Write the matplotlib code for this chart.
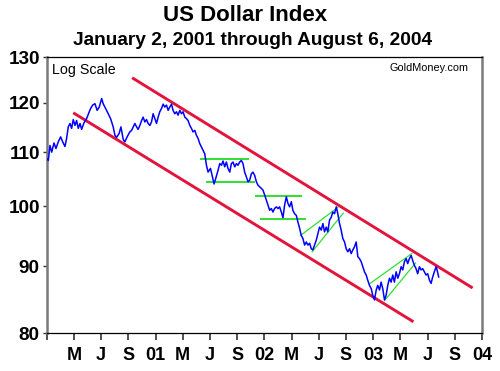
import matplotlib
matplotlib.use("Agg")
import matplotlib.pyplot as plt
from matplotlib.ticker import FixedLocator, NullLocator

plt.rcParams['font.family'] = ['Liberation Sans', 'DejaVu Sans']

# USD index (decimal year, index value)
usd_year = [
    2001.000, 2001.015, 2001.030, 2001.046, 2001.067, 2001.085, 2001.106, 2001.128, 2001.147, 2001.168,
    2001.183, 2001.198, 2001.214, 2001.229, 2001.244, 2001.260, 2001.275, 2001.290, 2001.306, 2001.321,
    2001.342, 2001.367, 2001.391, 2001.404, 2001.422, 2001.443, 2001.464, 2001.483, 2001.505, 2001.519,
    2001.535, 2001.550, 2001.565, 2001.587, 2001.611, 2001.627, 2001.642, 2001.666, 2001.682, 2001.703,
    2001.718, 2001.739, 2001.764, 2001.780, 2001.810, 2001.826, 2001.840, 2001.856, 2001.872, 2001.886,
    2001.902, 2001.917, 2001.932, 2001.948, 2001.963, 2001.978, 2001.994, 2002.009, 2002.024, 2002.039,
    2002.055, 2002.070, 2002.085, 2002.101, 2002.116, 2002.131, 2002.147, 2002.161, 2002.177, 2002.193,
    2002.207, 2002.223, 2002.239, 2002.253, 2002.269, 2002.284, 2002.299, 2002.315, 2002.330, 2002.345,
    2002.361, 2002.376, 2002.391, 2002.406, 2002.422, 2002.452, 2002.468, 2002.483, 2002.505, 2002.523,
    2002.538, 2002.553, 2002.574, 2002.590, 2002.606, 2002.620, 2002.636, 2002.651, 2002.666, 2002.682,
    2002.697, 2002.712, 2002.728, 2002.743, 2002.758, 2002.773, 2002.789, 2002.804, 2002.819, 2002.835,
    2002.850, 2002.865, 2002.881, 2002.895, 2002.911, 2002.927, 2002.941, 2002.957, 2002.972, 2002.987,
    2003.003, 2003.018, 2003.033, 2003.049, 2003.064, 2003.079, 2003.094, 2003.110, 2003.125, 2003.140,
    2003.156, 2003.171, 2003.186, 2003.202, 2003.217, 2003.232, 2003.248, 2003.262, 2003.278, 2003.294,
    2003.308, 2003.324, 2003.339, 2003.354, 2003.370, 2003.385, 2003.400, 2003.416, 2003.431, 2003.446,
    2003.461, 2003.477, 2003.492, 2003.507, 2003.523, 2003.538, 2003.553, 2003.569, 2003.583, 2003.599,
    2003.615, 2003.629, 2003.645, 2003.661, 2003.675, 2003.691, 2003.706, 2003.721, 2003.737, 2003.752,
    2003.767, 2003.783, 2003.798, 2003.813, 2003.828, 2003.844, 2003.859, 2003.874, 2003.890, 2003.905,
    2003.920, 2003.936, 2003.950, 2003.966, 2003.982, 2003.996, 2004.012, 2004.028, 2004.042, 2004.058,
    2004.073, 2004.088, 2004.104, 2004.119, 2004.134, 2004.150, 2004.165, 2004.180, 2004.195, 2004.211,
    2004.226, 2004.241, 2004.257, 2004.272, 2004.287, 2004.303, 2004.317, 2004.333, 2004.349, 2004.363,
    2004.379, 2004.394, 2004.409, 2004.425, 2004.440, 2004.455, 2004.471, 2004.486, 2004.501, 2004.517,
    2004.532, 2004.547, 2004.562, 2004.578, 2004.587, 2004.602,
]
usd_value = [
    108.8, 108.4, 111.3, 110.0, 111.8, 110.7, 112.0, 113.0, 112.0, 111.1,
    112.7, 115.0, 115.7, 114.7, 116.5, 115.3, 116.3, 114.7, 115.7, 114.5,
    115.8, 116.7, 118.1, 118.8, 119.5, 119.8, 118.4, 119.1, 120.9, 119.8,
    119.1, 118.4, 117.7, 116.7, 115.0, 113.3, 112.9, 113.7, 115.0, 112.5,
    112.0, 113.0, 114.0, 114.3, 115.7, 115.0, 114.5, 115.3, 116.3, 117.0,
    116.0, 116.5, 115.7, 115.3, 116.0, 117.7, 116.7, 115.7, 117.0, 118.1,
    118.8, 119.7, 119.1, 119.5, 118.4, 119.1, 119.7, 118.4, 117.7, 118.1,
    117.4, 118.4, 117.7, 118.1, 117.0, 116.7, 116.3, 115.3, 114.7, 114.0,
    114.3, 113.3, 112.7, 111.7, 111.0, 109.7, 107.5, 106.2, 106.9, 105.3,
    104.0, 105.0, 106.5, 107.8, 107.5, 108.3, 107.2, 108.1, 106.9, 106.2,
    107.8, 108.1, 107.2, 107.8, 107.5, 108.1, 108.4, 107.8, 106.2, 105.3,
    104.4, 104.7, 105.9, 106.2, 105.6, 104.4, 103.8, 103.5, 103.2, 102.9,
    102.0, 101.1, 100.2, 99.3, 99.6, 99.0, 99.6, 99.9, 99.6, 99.9,
    99.0, 98.0, 100.2, 101.7, 100.5, 99.9, 100.8, 99.3, 98.7, 98.4,
    97.3, 96.2, 95.0, 94.5, 93.4, 93.9, 93.4, 93.7, 92.8, 92.6,
    93.4, 94.2, 95.3, 96.4, 95.9, 97.0, 95.6, 96.4, 95.6, 97.6,
    98.1, 99.0, 98.7, 99.9, 98.7, 97.0, 95.9, 94.5, 93.9, 92.8,
    92.3, 92.8, 92.0, 92.6, 93.1, 93.9, 91.5, 91.2, 90.7, 89.9,
    89.1, 88.6, 87.8, 87.0, 86.5, 85.5, 84.8, 86.3, 87.0, 86.3,
    87.5, 86.5, 84.8, 85.5, 87.0, 88.1, 87.5, 88.6, 87.5, 89.1,
    88.1, 88.8, 89.9, 89.4, 90.7, 91.2, 90.4, 91.2, 91.7, 90.9,
    90.1, 89.6, 88.8, 89.9, 89.4, 89.6, 89.1, 88.6, 88.8, 87.8,
    87.3, 88.3, 89.1, 89.9, 89.4, 88.3,
]

# trend channel (red) and consolidation / wedge lines (green): start & end
channel_year = [(2001.785, 2004.914), (2001.244, 2004.370)]
channel_value = [(125.4, 86.6), (117.9, 81.6)]

flat_year = [(2002.422, 2002.850), (2002.473, 2002.902), (2002.920, 2003.339), (2002.972, 2003.371)]
flat_value = [(108.6, 108.6), (104.3, 104.3), (101.8, 101.8), (97.7, 97.7)]

wedge_year = [(2003.333, 2003.675), (2003.439, 2003.725), (2003.972, 2004.354), (2004.104, 2004.390)]
wedge_value = [(95.0, 99.8), (92.3, 98.8), (87.3, 92.0), (84.7, 90.5)]

yticks = [80, 90, 100, 110, 120, 130]
xtick_labels = ['', 'M', 'J', 'S', '01', 'M', 'J', 'S', '02', 'M', 'J', 'S', '03', 'M', 'J', 'S', '04']

fig = plt.figure(figsize=(5, 3.71), dpi=100)
ax = fig.add_axes([0.0934, 0.1024, 0.8706, 0.7432])

for xs, ys in zip(channel_year, channel_value):
    ax.plot(xs, ys, color='#e3143c', linewidth=2.1, solid_capstyle='butt', zorder=2)
for xs, ys in zip(flat_year, flat_value):
    ax.plot(xs, ys, color='#2ee02e', linewidth=1.4, zorder=2)
for xs, ys in zip(wedge_year, wedge_value):
    ax.plot(xs, ys, color='#2ee02e', linewidth=0.9, zorder=2)

ax.plot(usd_year, usd_value, color='#0000ff', linewidth=1.1, zorder=3)

ax.set_yscale('log')
ax.set_ylim(80, 130)
ax.set_xlim(2001, 2005)
ax.yaxis.set_major_locator(FixedLocator(yticks))
ax.yaxis.set_minor_locator(NullLocator())
ax.set_yticklabels([str(v) for v in yticks])
ax.set_xticks([2001 + 0.25 * i for i in range(len(xtick_labels))])
ax.set_xticklabels(xtick_labels)
ax.xaxis.set_minor_locator(NullLocator())

ax.tick_params(axis='y', direction='out', length=3, width=1, pad=2, labelsize=13.6, colors='#333333')
ax.tick_params(axis='x', direction='out', length=5, width=1.2, pad=5, labelsize=13, colors='#333333')
for lab in ax.get_xticklabels() + ax.get_yticklabels():
    lab.set_fontweight('bold')
    lab.set_color('black')

for side in ['left', 'right']:
    ax.spines[side].set_color('#7a7a7a')
    ax.spines[side].set_linewidth(1.8)
for side in ['top', 'bottom']:
    ax.spines[side].set_color('black')
    ax.spines[side].set_linewidth(0.9)

ax.text(0.012, 0.955, 'Log Scale', transform=ax.transAxes, fontsize=10.3,
        ha='left', va='center')
ax.text(0.97, 0.96, 'GoldMoney.com', transform=ax.transAxes, fontsize=7.8,
        ha='right', va='center')

fig.text(0.49, 0.957, 'US Dollar Index', ha='center', va='center',
         fontsize=16, fontweight='bold')
fig.text(0.506, 0.892, 'January 2, 2001 through August 6, 2004', ha='center', va='center',
         fontsize=13.8, fontweight='bold')

fig.savefig('out.png', dpi=100)
